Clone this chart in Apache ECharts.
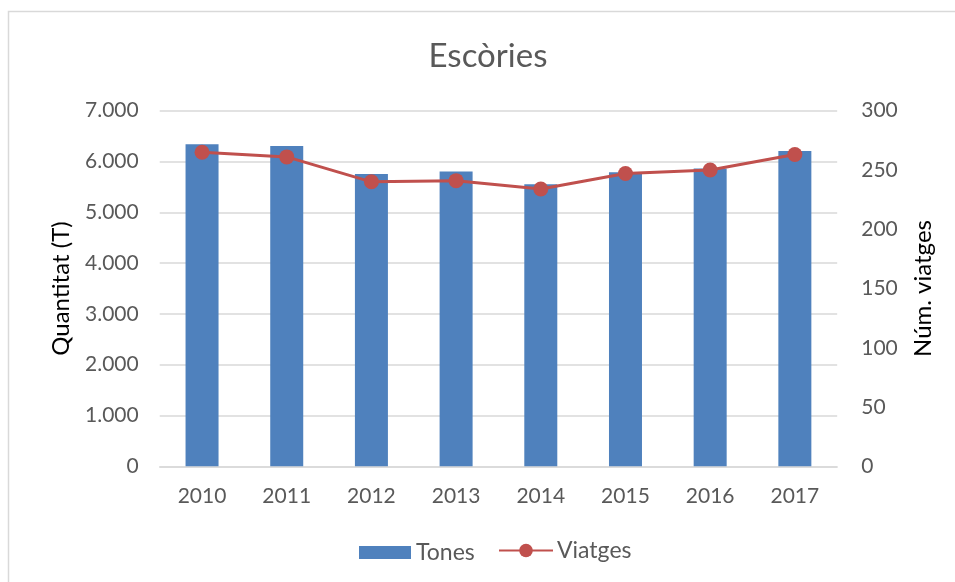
<!DOCTYPE html>
<html>
<head>
<meta charset="utf-8">
<script src="https://cdn.jsdelivr.net/npm/echarts@6/dist/echarts.min.js"></script>
<style>
  html, body { margin: 0; padding: 0; background: #fff; }
  #main { width: 955px; height: 582px; }
</style>
</head>
<body>
<div id="main"></div>
<script>
const years = ['2010', '2011', '2012', '2013', '2014', '2015', '2016', '2017']
// tones (left axis)
const tones = [6340, 6305, 5755, 5805, 5550, 5790, 5860, 6205]
// viatges (right axis)
const viatges = [265, 261, 240, 241, 234, 247, 250, 263]

const font = 'Lato'
const grey = '#595959'

const fmtThousands = (v) => String(v).replace(/\B(?=(\d{3})+(?!\d))/g, '.')

const chart = echarts.init(document.getElementById('main'))

const option = {
  backgroundColor: '#fff',
  animation: false,
  graphic: [
    {
      // marc del gràfic
      type: 'rect',
      shape: { x: 8.5, y: 11.5, width: 960, height: 580 },
      style: { fill: 'none', stroke: '#d9d9d9', lineWidth: 1.5 },
      silent: true,
    },
  ],
  title: {
    text: 'Escòries',
    left: 483,
    top: 35,
    textAlign: 'center',
    textStyle: { fontFamily: font, fontSize: 33, fontWeight: 'normal', color: grey },
  },
  grid: {
    left: 159.7,
    right: 117.8,
    top: 110.7,
    bottom: 115.7,
    containLabel: false,
  },
  legend: [
    {
      data: ['Tones'],
      left: 359,
      top: 541,
      padding: 0,
      itemWidth: 52,
      itemHeight: 13,
      icon: 'rect',
      textStyle: { fontFamily: font, fontSize: 23, color: grey },
    },
    {
      data: ['Viatges'],
      left: 498,
      top: 539,
      padding: 0,
      itemWidth: 54,
      itemHeight: 17,
      textStyle: { fontFamily: font, fontSize: 23, color: grey, padding: [0, 0, 0, -1] },
    },
  ],
  xAxis: {
    type: 'category',
    data: years,
    axisLine: { show: true, lineStyle: { color: '#d9d9d9', width: 1.5 } },
    axisTick: { show: false },
    axisLabel: { fontFamily: font, fontSize: 21, color: grey, margin: 19 },
  },
  yAxis: [
    {
      type: 'value',
      min: 0,
      max: 7000,
      interval: 1000,
      name: 'Quantitat (T)',
      nameLocation: 'middle',
      nameRotate: 90,
      nameGap: 86,
      nameTextStyle: { fontFamily: font, fontSize: 24, color: '#000' },
      axisLine: { show: false },
      axisTick: { show: false },
      axisLabel: {
        fontFamily: font,
        fontSize: 21,
        color: grey,
        margin: 21,
        formatter: (v) => fmtThousands(v),
      },
      splitLine: { show: true, lineStyle: { color: '#d9d9d9', width: 1.5 } },
    },
    {
      type: 'value',
      min: 0,
      max: 300,
      interval: 50,
      name: 'Núm. viatges',
      nameLocation: 'middle',
      nameRotate: 90,
      nameGap: 74,
      nameTextStyle: { fontFamily: font, fontSize: 24, color: '#000' },
      axisLine: { show: false },
      axisTick: { show: false },
      axisLabel: { fontFamily: font, fontSize: 21, color: grey, margin: 24 },
      splitLine: { show: false },
    },
  ],
  series: [
    {
      name: 'Tones',
      type: 'bar',
      yAxisIndex: 0,
      barWidth: 33,
      itemStyle: { color: '#4f81bd' },
      data: tones,
    },
    {
      name: 'Viatges',
      type: 'line',
      yAxisIndex: 1,
      symbol: 'circle',
      symbolSize: 15,
      lineStyle: { color: '#c0504d', width: 3 },
      itemStyle: { color: '#c0504d' },
      data: viatges,
    },
  ],
}

chart.setOption(option)
</script>
</body>
</html>
